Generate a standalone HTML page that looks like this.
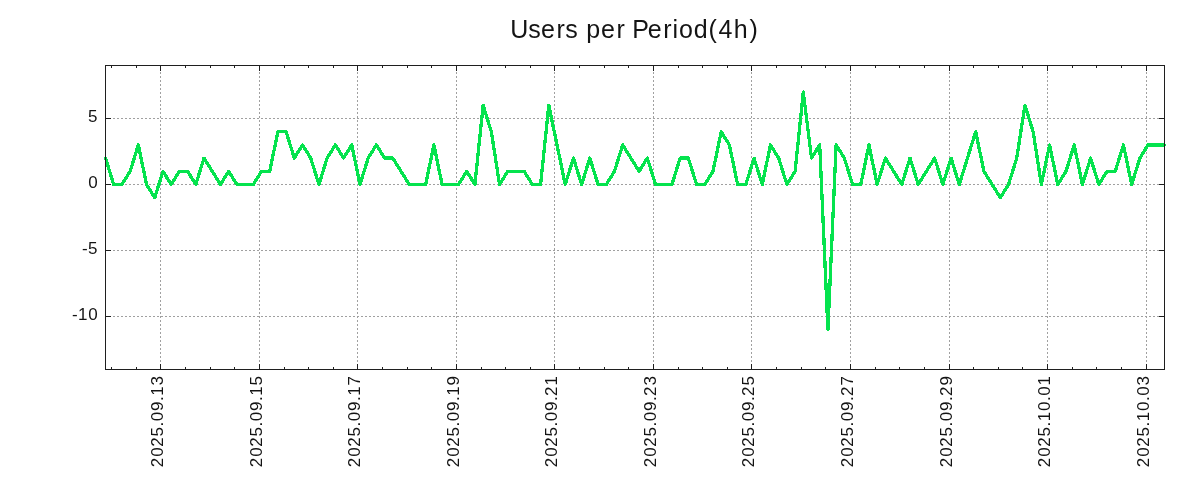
<!DOCTYPE html><html><head><meta charset="utf-8"><style>html,body{margin:0;padding:0;background:#fff;width:1200px;height:500px;overflow:hidden}svg{display:block}text{font-family:"Liberation Sans",sans-serif;fill:#141414}</style></head><body>
<svg width="1200" height="500" viewBox="0 0 1200 500">
<rect x="0" y="0" width="1200" height="500" fill="#fff"/>
<g stroke="#a0a0a0" stroke-width="1" stroke-dasharray="2 2" shape-rendering="crispEdges" fill="none">
<line x1="105" y1="118.5" x2="1165" y2="118.5"/>
<line x1="105" y1="184.5" x2="1165" y2="184.5"/>
<line x1="105" y1="250.5" x2="1165" y2="250.5"/>
<line x1="105" y1="316.5" x2="1165" y2="316.5"/>
<line x1="160.5" y1="370" x2="160.5" y2="65"/>
<line x1="259.5" y1="370" x2="259.5" y2="65"/>
<line x1="357.5" y1="370" x2="357.5" y2="65"/>
<line x1="456.5" y1="370" x2="456.5" y2="65"/>
<line x1="554.5" y1="370" x2="554.5" y2="65"/>
<line x1="653.5" y1="370" x2="653.5" y2="65"/>
<line x1="751.5" y1="370" x2="751.5" y2="65"/>
<line x1="850.5" y1="370" x2="850.5" y2="65"/>
<line x1="949.5" y1="370" x2="949.5" y2="65"/>
<line x1="1047.5" y1="370" x2="1047.5" y2="65"/>
<line x1="1146.5" y1="370" x2="1146.5" y2="65"/>
</g>
<polyline points="105.50,158.10 113.71,184.50 121.92,184.50 130.13,171.30 138.34,144.90 146.55,184.50 154.76,197.70 162.97,171.30 171.17,184.50 179.38,171.30 187.59,171.30 195.80,184.50 204.01,158.10 212.22,171.30 220.43,184.50 228.64,171.30 236.85,184.50 245.06,184.50 253.27,184.50 261.48,171.30 269.69,171.30 277.90,131.70 286.10,131.70 294.31,158.10 302.52,144.90 310.73,158.10 318.94,184.50 327.15,158.10 335.36,144.90 343.57,158.10 351.78,144.90 359.99,184.50 368.20,158.10 376.41,144.90 384.62,158.10 392.83,158.10 401.03,171.30 409.24,184.50 417.45,184.50 425.66,184.50 433.87,144.90 442.08,184.50 450.29,184.50 458.50,184.50 466.71,171.30 474.92,184.50 483.13,105.30 491.34,131.70 499.55,184.50 507.76,171.30 515.97,171.30 524.17,171.30 532.38,184.50 540.59,184.50 548.80,105.30 557.01,144.90 565.22,184.50 573.43,158.10 581.64,184.50 589.85,158.10 598.06,184.50 606.27,184.50 614.48,171.30 622.69,144.90 630.90,158.10 639.10,171.30 647.31,158.10 655.52,184.50 663.73,184.50 671.94,184.50 680.15,158.10 688.36,158.10 696.57,184.50 704.78,184.50 712.99,171.30 721.20,131.70 729.41,144.90 737.62,184.50 745.83,184.50 754.03,158.10 762.24,184.50 770.45,144.90 778.66,158.10 786.87,184.50 795.08,171.30 803.29,92.10 811.50,158.10 819.71,144.90 827.92,329.70 836.13,144.90 844.34,158.10 852.55,184.50 860.76,184.50 868.97,144.90 877.17,184.50 885.38,158.10 893.59,171.30 901.80,184.50 910.01,158.10 918.22,184.50 926.43,171.30 934.64,158.10 942.85,184.50 951.06,158.10 959.27,184.50 967.48,158.10 975.69,131.70 983.90,171.30 992.10,184.50 1000.31,197.70 1008.52,184.50 1016.73,158.10 1024.94,105.30 1033.15,131.70 1041.36,184.50 1049.57,144.90 1057.78,184.50 1065.99,171.30 1074.20,144.90 1082.41,184.50 1090.62,158.10 1098.83,184.50 1107.03,171.30 1115.24,171.30 1123.45,144.90 1131.66,184.50 1139.87,158.10 1148.08,144.90 1156.29,144.90 1164.50,144.90" fill="none" stroke="#05e34e" stroke-width="3.3" stroke-linejoin="round" stroke-linecap="round" shape-rendering="crispEdges"/>
<g fill="#1f1f1f" shape-rendering="crispEdges">
<rect x="105" y="65" width="1060" height="1"/>
<rect x="105" y="369" width="1060" height="1"/>
<rect x="105" y="65" width="1" height="305"/>
<rect x="1164" y="65" width="1" height="305"/>
<rect x="105" y="118" width="6" height="1"/>
<rect x="1159" y="118" width="6" height="1"/>
<rect x="105" y="184" width="6" height="1"/>
<rect x="1159" y="184" width="6" height="1"/>
<rect x="105" y="250" width="6" height="1"/>
<rect x="1159" y="250" width="6" height="1"/>
<rect x="105" y="316" width="6" height="1"/>
<rect x="1159" y="316" width="6" height="1"/>
<rect x="111" y="367" width="1" height="3"/>
<rect x="111" y="65" width="1" height="3"/>
<rect x="136" y="367" width="1" height="3"/>
<rect x="136" y="65" width="1" height="3"/>
<rect x="160" y="364" width="1" height="6"/>
<rect x="160" y="65" width="1" height="6"/>
<rect x="185" y="367" width="1" height="3"/>
<rect x="185" y="65" width="1" height="3"/>
<rect x="210" y="367" width="1" height="3"/>
<rect x="210" y="65" width="1" height="3"/>
<rect x="234" y="367" width="1" height="3"/>
<rect x="234" y="65" width="1" height="3"/>
<rect x="259" y="364" width="1" height="6"/>
<rect x="259" y="65" width="1" height="6"/>
<rect x="284" y="367" width="1" height="3"/>
<rect x="284" y="65" width="1" height="3"/>
<rect x="308" y="367" width="1" height="3"/>
<rect x="308" y="65" width="1" height="3"/>
<rect x="333" y="367" width="1" height="3"/>
<rect x="333" y="65" width="1" height="3"/>
<rect x="357" y="364" width="1" height="6"/>
<rect x="357" y="65" width="1" height="6"/>
<rect x="382" y="367" width="1" height="3"/>
<rect x="382" y="65" width="1" height="3"/>
<rect x="407" y="367" width="1" height="3"/>
<rect x="407" y="65" width="1" height="3"/>
<rect x="431" y="367" width="1" height="3"/>
<rect x="431" y="65" width="1" height="3"/>
<rect x="456" y="364" width="1" height="6"/>
<rect x="456" y="65" width="1" height="6"/>
<rect x="481" y="367" width="1" height="3"/>
<rect x="481" y="65" width="1" height="3"/>
<rect x="505" y="367" width="1" height="3"/>
<rect x="505" y="65" width="1" height="3"/>
<rect x="530" y="367" width="1" height="3"/>
<rect x="530" y="65" width="1" height="3"/>
<rect x="554" y="364" width="1" height="6"/>
<rect x="554" y="65" width="1" height="6"/>
<rect x="579" y="367" width="1" height="3"/>
<rect x="579" y="65" width="1" height="3"/>
<rect x="604" y="367" width="1" height="3"/>
<rect x="604" y="65" width="1" height="3"/>
<rect x="628" y="367" width="1" height="3"/>
<rect x="628" y="65" width="1" height="3"/>
<rect x="653" y="364" width="1" height="6"/>
<rect x="653" y="65" width="1" height="6"/>
<rect x="678" y="367" width="1" height="3"/>
<rect x="678" y="65" width="1" height="3"/>
<rect x="702" y="367" width="1" height="3"/>
<rect x="702" y="65" width="1" height="3"/>
<rect x="727" y="367" width="1" height="3"/>
<rect x="727" y="65" width="1" height="3"/>
<rect x="751" y="364" width="1" height="6"/>
<rect x="751" y="65" width="1" height="6"/>
<rect x="776" y="367" width="1" height="3"/>
<rect x="776" y="65" width="1" height="3"/>
<rect x="801" y="367" width="1" height="3"/>
<rect x="801" y="65" width="1" height="3"/>
<rect x="825" y="367" width="1" height="3"/>
<rect x="825" y="65" width="1" height="3"/>
<rect x="850" y="364" width="1" height="6"/>
<rect x="850" y="65" width="1" height="6"/>
<rect x="875" y="367" width="1" height="3"/>
<rect x="875" y="65" width="1" height="3"/>
<rect x="899" y="367" width="1" height="3"/>
<rect x="899" y="65" width="1" height="3"/>
<rect x="924" y="367" width="1" height="3"/>
<rect x="924" y="65" width="1" height="3"/>
<rect x="949" y="364" width="1" height="6"/>
<rect x="949" y="65" width="1" height="6"/>
<rect x="973" y="367" width="1" height="3"/>
<rect x="973" y="65" width="1" height="3"/>
<rect x="998" y="367" width="1" height="3"/>
<rect x="998" y="65" width="1" height="3"/>
<rect x="1022" y="367" width="1" height="3"/>
<rect x="1022" y="65" width="1" height="3"/>
<rect x="1047" y="364" width="1" height="6"/>
<rect x="1047" y="65" width="1" height="6"/>
<rect x="1072" y="367" width="1" height="3"/>
<rect x="1072" y="65" width="1" height="3"/>
<rect x="1096" y="367" width="1" height="3"/>
<rect x="1096" y="65" width="1" height="3"/>
<rect x="1121" y="367" width="1" height="3"/>
<rect x="1121" y="65" width="1" height="3"/>
<rect x="1146" y="364" width="1" height="6"/>
<rect x="1146" y="65" width="1" height="6"/>
</g>
<g opacity="0.999">
<text x="88.12" y="121.5" font-size="17">5</text>
<text x="88.18" y="187.5" font-size="17">0</text>
<text x="82.10 88.12" y="253.5" font-size="17">-5</text>
<text x="71.92 77.91 88.18" y="319.5" font-size="17">-10</text>
<text transform="translate(163,467.3) rotate(-90)" x="0.15 10.54 20.51 30.84 40.89 46.16 56.29 66.34 71.52 81.81" y="0" font-size="17">2025.09.13</text>
<text transform="translate(262,467.3) rotate(-90)" x="0.15 10.54 20.51 30.84 40.89 46.16 56.29 66.34 71.52 81.73" y="0" font-size="17">2025.09.15</text>
<text transform="translate(360,467.3) rotate(-90)" x="0.15 10.54 20.51 30.84 40.89 46.16 56.29 66.34 71.52 81.76" y="0" font-size="17">2025.09.17</text>
<text transform="translate(459,467.3) rotate(-90)" x="0.15 10.54 20.51 30.84 40.89 46.16 56.29 66.34 71.52 81.74" y="0" font-size="17">2025.09.19</text>
<text transform="translate(557,467.3) rotate(-90)" x="0.15 10.54 20.51 30.84 40.89 46.16 56.29 66.34 71.40 81.70" y="0" font-size="17">2025.09.21</text>
<text transform="translate(656,467.3) rotate(-90)" x="0.15 10.54 20.51 30.84 40.89 46.16 56.29 66.34 71.40 81.81" y="0" font-size="17">2025.09.23</text>
<text transform="translate(754,467.3) rotate(-90)" x="0.15 10.54 20.51 30.84 40.89 46.16 56.29 66.34 71.40 81.73" y="0" font-size="17">2025.09.25</text>
<text transform="translate(853,467.3) rotate(-90)" x="0.15 10.54 20.51 30.84 40.89 46.16 56.29 66.34 71.40 81.76" y="0" font-size="17">2025.09.27</text>
<text transform="translate(952,467.3) rotate(-90)" x="0.15 10.54 20.51 30.84 40.89 46.16 56.29 66.34 71.40 81.74" y="0" font-size="17">2025.09.29</text>
<text transform="translate(1050,467.3) rotate(-90)" x="0.15 10.54 20.51 30.84 40.89 46.08 56.34 66.34 71.61 81.70" y="0" font-size="17">2025.10.01</text>
<text transform="translate(1149,467.3) rotate(-90)" x="0.15 10.54 20.51 30.84 40.89 46.08 56.34 66.34 71.61 81.81" y="0" font-size="17">2025.10.03</text>
<text x="510.26 528.24 541.05 556.57 565.37 577.71 586.15 601.05 616.57 625.20 632.13 647.78 663.31 672.51 679.00 693.81 708.41 718.56 733.83 749.52" y="37.7" font-size="25.0">Users per Period(4h)</text>
</g>
</svg></body></html>
